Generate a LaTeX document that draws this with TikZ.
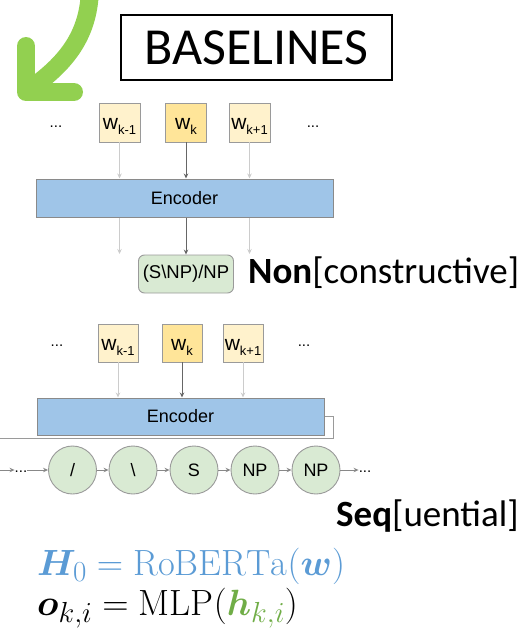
\RequirePackage{fix-cm}
\documentclass[tikz,border=0pt]{standalone}
\usepackage{amsmath}
\usepackage{bm}
\usepackage{fontspec}
\newfontfamily\carlito{Carlito}
\newfontfamily\arialf{Liberation Sans}
\usetikzlibrary{arrows.meta}
\DeclareMathSizes{36.5}{36.5}{29}{22}

\definecolor{wordlight}{HTML}{FFF2CC}
\definecolor{wordkey}{HTML}{FFE599}
\definecolor{boxline}{HTML}{9A9A9A}
\definecolor{encfill}{HTML}{9FC5E8}
\definecolor{encline}{HTML}{8A8A8A}
\definecolor{tagfill}{HTML}{D9EAD3}
\definecolor{faintarrow}{HTML}{CCCCCC}
\definecolor{strongarrow}{HTML}{666666}
\definecolor{seqarrow}{HTML}{888888}
\definecolor{bigarrow}{HTML}{92D050}
\definecolor{eqblue}{HTML}{5B9BD5}
\definecolor{eqgreen}{HTML}{70AD47}

\tikzset{
  wordbox/.style={draw=boxline, line width=0.9pt, fill=wordlight, minimum width=41pt,
    minimum height=39pt, inner sep=0pt, text height=14pt, text depth=0pt,
    font=\arialf\fontsize{21}{22}\selectfont},
  keybox/.style={wordbox, fill=wordkey},
  encbox/.style={draw=encline, line width=1pt, fill=encfill, inner sep=0pt,
    font=\arialf\fontsize{18}{20}\selectfont},
  tagbox/.style={draw=boxline, line width=0.9pt, fill=tagfill, rounded corners=6pt,
    minimum width=95pt, minimum height=38pt, inner sep=0pt,
    font=\arialf\fontsize{18.5}{20}\selectfont},
  tagcirc/.style={circle, draw=boxline, line width=0.9pt, fill=tagfill, minimum size=48pt,
    inner sep=0pt, font=\arialf\fontsize{18}{20}\selectfont},
  dotsnode/.style={inner sep=0pt, font=\arialf\fontsize{15}{16}\selectfont},
  tip/.style={-{Stealth[length=5pt,width=4.5pt]}},
  faint/.style={tip, draw=faintarrow, line width=0.9pt},
  strong/.style={tip, draw=strongarrow, line width=0.9pt},
  seqlink/.style={tip, draw=seqarrow, line width=0.9pt},
  heading/.style={inner sep=0pt, anchor=base west, font=\carlito\fontsize{37}{40}\selectfont},
  formula/.style={inner sep=0pt, anchor=base west, font=\fontsize{36.5}{40}\selectfont},
}
\newcommand{\wsub}[1]{w\raisebox{-5pt}{\fontsize{13}{13}\selectfont #1}}

\begin{document}
\begin{tikzpicture}[x=1pt, y=-1pt]
\useasboundingbox (0,0) rectangle (524,634);

% curved green arrow in the corner
\draw[bigarrow, line width=18pt, line cap=round]
  (90,-14) .. controls (90,35) and (66,64) .. (27,91);
\draw[bigarrow, line width=18pt, line cap=round, line join=round]
  (26,46) -- (26,92) -- (74,92);

% title
\node[draw=black, line width=1.5pt, minimum width=271pt, minimum height=65pt, inner sep=0pt,
  font=\carlito\fontsize{52}{56}\selectfont] (title) at (256.5,47.5) {BASELINES};

% ---- non-constructive tagger ----
\node[dotsnode] (d1l) at (56,127) {...};
\node[wordbox] (a1) at (119.5,122.5) {\wsub{k-1}};
\node[keybox]  (a2) at (186,122.5) {\wsub{k}};
\node[wordbox] (a3) at (249.5,122.5) {\wsub{k+1}};
\node[dotsnode] (d1r) at (313,127) {...};

\node[encbox, minimum width=297pt, minimum height=38pt] (enc1) at (184.5,198) {Encoder};

\draw[faint]  (a1) -- (a1 |- enc1.north);
\draw[strong] (a2) -- (a2 |- enc1.north);
\draw[faint]  (a3) -- (a3 |- enc1.north);

\node[tagbox] (tag) at (186,274) {(S\textbackslash NP)/NP};
\coordinate (o1) at (119.5,254);
\coordinate (o3) at (249.5,254);
\draw[faint]  (enc1.south -| o1) -- (o1);
\draw[strong] (enc1.south -| tag) -- (tag.north);
\draw[faint]  (enc1.south -| o3) -- (o3);

\node[heading] (nonlbl) at (248,283) {\textbf{Non}[constructive]};

% ---- sequential tagger ----
\node[dotsnode] (d2l) at (57,346) {...};
\node[wordbox, minimum width=40pt, minimum height=38pt] (b1) at (118,343) {\wsub{k-1}};
\node[keybox, minimum width=40pt, minimum height=38pt]  (b2) at (182,343) {\wsub{k}};
\node[wordbox, minimum width=40pt, minimum height=38pt] (b3) at (243,343) {\wsub{k+1}};
\node[dotsnode] (d2r) at (304,346) {...};

\node[encbox, minimum width=287pt, minimum height=37pt] (enc2) at (180.5,416.5) {Encoder};

\draw[faint]  (b1) -- (b1 |- enc2.north);
\draw[strong] (b2) -- (b2 |- enc2.north);
\draw[faint]  (b3) -- (b3 |- enc2.north);

% feedback line leaving the encoder
\coordinate (fbR) at (333,438.5);
\coordinate (fbL) at (0,438.5);
\draw[boxline, line width=1pt] (enc2.east) -| (fbR) -- (fbL);

% sequence of tag atoms
\coordinate (sstart) at (0,470);
\node[dotsnode] (sdl) at (21,472) {...};
\node[tagcirc] (c1) at (72.5,470) {/};
\node[tagcirc] (c2) at (133,470) {\textbackslash};
\node[tagcirc] (c3) at (194,470) {S};
\node[tagcirc] (c4) at (255,470) {NP};
\node[tagcirc] (c5) at (316,470) {NP};
\node[dotsnode] (sdr) at (365,472) {...};

\draw[seqlink] (sstart) -- (sdl.west |- sstart);
\draw[seqlink] (sdl.east |- c1) -- (c1);
\draw[seqlink] (c1) -- (c2);
\draw[seqlink] (c2) -- (c3);
\draw[seqlink] (c3) -- (c4);
\draw[seqlink] (c4) -- (c5);
\draw[seqlink] (c5) -- (sdr.west |- c5);

\node[heading] (seqlbl) at (336,526) {\textbf{Seq}[uential]};

% equations
\node[formula, text=eqblue] (eq1) at (37,575)
  {$\bm{H}_0 = \mathrm{RoBERTa}(\bm{w})$};
\node[formula] (eq2) at (37,615)
  {$\bm{o}_{k,i} = \mathrm{MLP}(\textcolor{eqgreen}{\bm{h}_{k,i}})$};
\end{tikzpicture}
\end{document}
